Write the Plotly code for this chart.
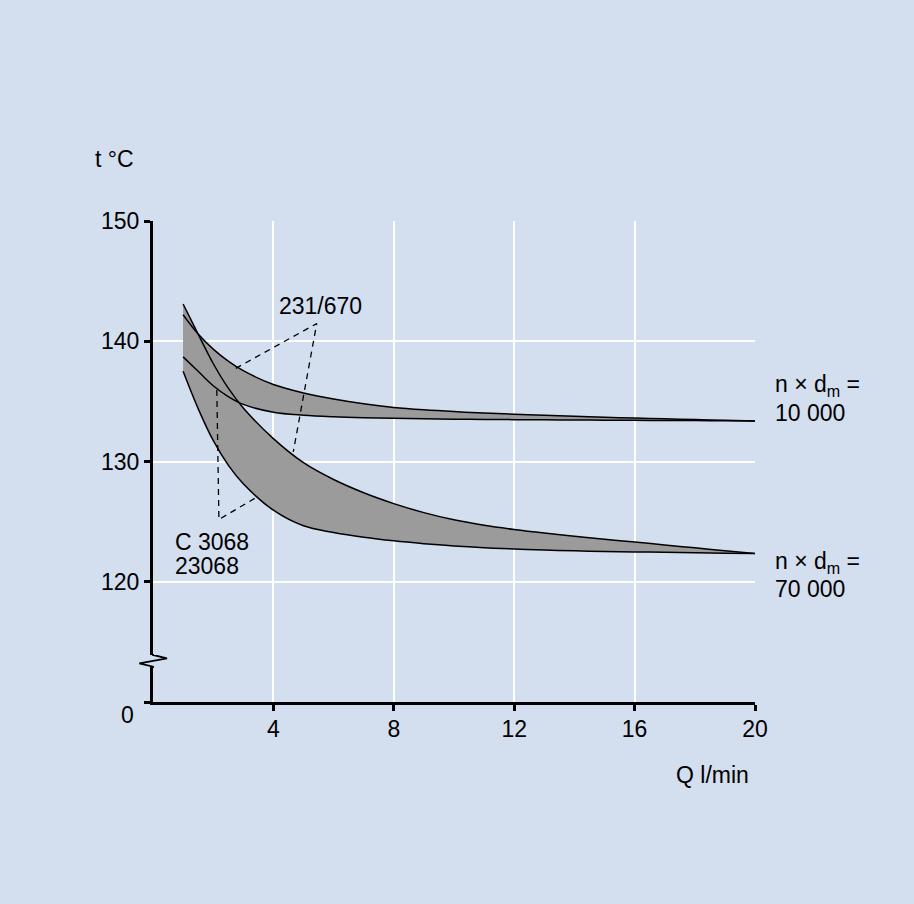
import plotly.graph_objects as go

# ---- data ----
Q = [1, 1.5, 2, 2.5, 3, 4, 5, 6, 7, 8, 9, 10, 11, 12, 13, 14, 15, 16, 17, 18, 19, 20]

t_231_670_10000 = [142.2, 140.6, 139.35, 138.35, 137.55, 136.4, 135.7, 135.2, 134.8, 134.5, 134.3,
                   134.15, 134.03, 133.93, 133.84, 133.76, 133.68, 133.61, 133.55, 133.49, 133.43, 133.37]
t_C3068_10000 = [138.7, 137.5, 136.3, 135.4, 134.75, 134.1, 133.85, 133.72, 133.64, 133.59, 133.55,
                 133.52, 133.5, 133.48, 133.47, 133.45, 133.44, 133.42, 133.41, 133.4, 133.38, 133.37]
t_231_670_70000 = [143.1, 140.6, 138.15, 136.1, 134.45, 131.9, 129.9, 128.5, 127.4, 126.5, 125.75,
                   125.15, 124.7, 124.35, 124.05, 123.78, 123.53, 123.3, 123.06, 122.82, 122.58, 122.35]
t_C3068_70000 = [137.5, 134.4, 131.75, 129.7, 128.15, 125.95, 124.65, 124.1, 123.7, 123.4, 123.17,
                 122.98, 122.83, 122.72, 122.63, 122.57, 122.52, 122.48, 122.45, 122.42, 122.38, 122.35]

# leader lines (dashed) for the bearing labels
lead_231_Q = [2.75, 5.44, 4.66]
lead_231_t = [137.75, 141.47, 130.8]
lead_C_Q = [2.12, 2.19, 3.39]
lead_C_t = [135.95, 125.18, 126.95]

x_ticks = [4, 8, 12, 16, 20]
y_ticks = [110, 120, 130, 140, 150]
y_ticktext = ["", "120", "130", "140", "150"]

BG = "rgb(211,222,239)"
GRAY = "#9b9b9b"
FONT = "Liberation Sans, Arial, Helvetica, sans-serif"
FS = 23

fig = go.Figure()

# filled bands (no outline)
for lower, upper in [(t_C3068_10000, t_231_670_10000), (t_C3068_70000, t_231_670_70000)]:
    fig.add_trace(go.Scatter(x=Q, y=lower, mode="lines", line=dict(width=0, shape="spline"),
                             hoverinfo="skip", showlegend=False))
    fig.add_trace(go.Scatter(x=Q, y=upper, mode="lines", line=dict(width=0, shape="spline"),
                             fill="tonexty", fillcolor=GRAY, hoverinfo="skip", showlegend=False))

# curve outlines
for ys in [t_C3068_10000, t_231_670_10000, t_C3068_70000, t_231_670_70000]:
    fig.add_trace(go.Scatter(x=Q, y=ys, mode="lines", line=dict(color="black", width=1.5, shape="spline"),
                             hoverinfo="skip", showlegend=False))

# dashed leader lines
for xs, ys in [(lead_231_Q, lead_231_t), (lead_C_Q, lead_C_t)]:
    fig.add_trace(go.Scatter(x=xs, y=ys, mode="lines", line=dict(color="black", width=1.3, dash="6px,5px"),
                             hoverinfo="skip", showlegend=False))

L, R, T, B = 153, 159, 221, 202
W, H = 914, 904
pw, ph = W - L - R, H - T - B

def px(x):
    return (x - L) / pw

def py(y):
    return (H - B - y) / ph

fig.update_layout(
    width=W, height=H,
    margin=dict(l=L, r=R, t=T, b=B),
    paper_bgcolor=BG, plot_bgcolor=BG,
    font=dict(family=FONT, size=FS, color="black"),
    showlegend=False,
    xaxis=dict(range=[0, 20], tickvals=x_ticks, showgrid=True, gridcolor="white", gridwidth=1.5,
               showline=True, linecolor="black", linewidth=3, ticks="outside", ticklen=6,
               tickwidth=3, tickcolor="black", zeroline=False, ticklabelstandoff=-2),
    yaxis=dict(range=[110, 150], tickvals=y_ticks, ticktext=y_ticktext, showgrid=True,
               gridcolor="white", gridwidth=1.5, showline=True, linecolor="black", linewidth=3,
               ticks="outside", ticklen=6, tickwidth=3, tickcolor="black", zeroline=False,
               ticklabelstandoff=0),
)

# axis break (zigzag) on the y axis
fig.add_shape(type="rect", xref="paper", yref="paper", x0=px(150), x1=px(156), y0=py(667), y1=py(655),
              fillcolor=BG, line=dict(width=0), layer="above")
fig.add_shape(type="path", xref="paper", yref="paper", layer="above",
              path=f"M {px(153)},{py(654)} L {px(153)},{py(655)} L {px(167)},{py(658.3)} "
                   f"L {px(139.3)},{py(663.3)} L {px(153)},{py(666.7)} L {px(153)},{py(668)}",
              line=dict(color="black", width=1.8))

ann = [
    ("t °C", px(93), py(159), "left"),
    ("Q l/min", px(751), py(775), "right"),
    ("0", px(136), py(714.5), "right"),
    ("231/670", px(277), py(306), "left"),
    ("C 3068", px(173), py(541.7), "left"),
    ("23068", px(173), py(566), "left"),
    ("n × d<sub>m</sub> =", px(773), py(385), "left"),
    ("10 000", px(773), py(413), "left"),
    ("n × d<sub>m</sub> =", px(773), py(562), "left"),
    ("70 000", px(773), py(589), "left"),
]
for text, x, y, anc in ann:
    fig.add_annotation(text=text, x=x, y=y, xref="paper", yref="paper", xanchor=anc, yanchor="middle",
                       showarrow=False, font=dict(family=FONT, size=FS, color="black"))

fig.write_html("out.html", config={"displayModeBar": False},
               post_script="document.body.style.margin='0';document.body.style.overflow='hidden';")
